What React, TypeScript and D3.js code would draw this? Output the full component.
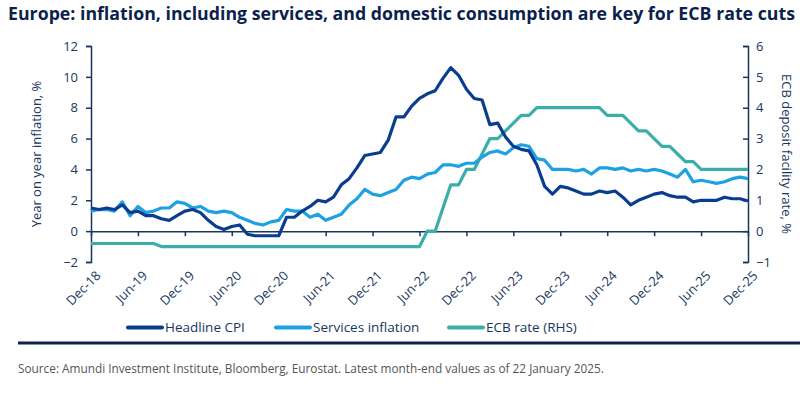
import React, { useEffect, useRef } from "react";
import * as d3 from "d3";

// monthly, Dec-18 .. Dec-25
const headlineCPI = [
  1.5,
  1.4, 1.5, 1.4, 1.7, 1.2, 1.3, 1.0, 1.0, 0.8, 0.7, 1.0, 1.3,
  1.4, 1.2, 0.7, 0.3, 0.1, 0.3, 0.4, -0.2, -0.3, -0.3, -0.3, -0.3,
  0.9, 0.9, 1.3, 1.6, 2.0, 1.9, 2.2, 3.0, 3.4, 4.1, 4.9, 5.0,
  5.1, 5.9, 7.4, 7.4, 8.1, 8.6, 8.9, 9.1, 9.9, 10.6, 10.1, 9.2,
  8.6, 8.5, 6.9, 7.0, 6.1, 5.5, 5.3, 5.2, 4.3, 2.9, 2.4, 2.9,
  2.8, 2.6, 2.4, 2.4, 2.6, 2.5, 2.6, 2.2, 1.7, 2.0, 2.2, 2.4,
  2.5, 2.3, 2.2, 2.2, 1.9, 2.0, 2.0, 2.0, 2.2, 2.1, 2.1, 1.95,
];

const servicesInflation = [
  1.3,
  1.4, 1.4, 1.3, 1.9, 1.0, 1.6, 1.2, 1.3, 1.5, 1.5, 1.9, 1.8,
  1.5, 1.6, 1.3, 1.2, 1.3, 1.2, 0.9, 0.7, 0.5, 0.4, 0.6, 0.7,
  1.4, 1.3, 1.3, 0.9, 1.1, 0.7, 0.9, 1.1, 1.7, 2.1, 2.7, 2.4,
  2.3, 2.5, 2.7, 3.3, 3.5, 3.4, 3.7, 3.8, 4.3, 4.3, 4.2, 4.4,
  4.4, 4.8, 5.1, 5.2, 5.0, 5.4, 5.6, 5.5, 4.7, 4.6, 4.0, 4.0,
  4.0, 3.9, 4.0, 3.7, 4.1, 4.1, 4.0, 4.1, 3.9, 4.0, 3.9, 4.0,
  3.9, 3.7, 3.5, 4.0, 3.2, 3.3, 3.2, 3.1, 3.2, 3.4, 3.5, 3.4,
];

// right-hand scale
const ecbRate = [
  -0.4,
  -0.4, -0.4, -0.4, -0.4, -0.4, -0.4, -0.4, -0.4, -0.5, -0.5, -0.5, -0.5,
  -0.5, -0.5, -0.5, -0.5, -0.5, -0.5, -0.5, -0.5, -0.5, -0.5, -0.5, -0.5,
  -0.5, -0.5, -0.5, -0.5, -0.5, -0.5, -0.5, -0.5, -0.5, -0.5, -0.5, -0.5,
  -0.5, -0.5, -0.5, -0.5, -0.5, -0.5, 0, 0, 0.75, 1.5, 1.5, 2.0,
  2.0, 2.5, 3.0, 3.0, 3.25, 3.5, 3.75, 3.75, 4.0, 4.0, 4.0, 4.0,
  4.0, 4.0, 4.0, 4.0, 4.0, 3.75, 3.75, 3.75, 3.5, 3.25, 3.25, 3.0,
  2.75, 2.75, 2.5, 2.25, 2.25, 2.0, 2.0, 2.0, 2.0, 2.0, 2.0, 2.0,
];

const xTickLabels = [
  "Dec-18", "Jun-19", "Dec-19", "Jun-20", "Dec-20", "Jun-21", "Dec-21", "Jun-22",
  "Dec-22", "Jun-23", "Dec-23", "Jun-24", "Dec-24", "Jun-25", "Dec-25",
];
const leftTicks = [-2, 0, 2, 4, 6, 8, 10, 12];
const rightTicks = [-1, 0, 1, 2, 3, 4, 5, 6];

const navy = "#17375e";
const font = "'Open Sans', 'Noto Sans', sans-serif";

export default function App() {
  const ref = useRef<SVGSVGElement>(null);

  useEffect(() => {
    const svg = d3.select(ref.current);
    svg.selectAll("*").remove();

    const n = headlineCPI.length;
    const left = 91, right = 748, top = 46, bottom = 262;

    // x in months since Dec-18
    const x = d3.scaleLinear().domain([0, n - 1]).range([left, right]);
    const yL = d3.scaleLinear().domain([-2, 12]).range([bottom, top]);
    const yR = d3.scaleLinear().domain([-1, 6]).range([bottom, top]);

    svg
      .append("text")
      .attr("x", 8)
      .attr("y", 20)
      .attr("textLength", 787)
      .attr("lengthAdjust", "spacingAndGlyphs")
      .attr("fill", "#0c1f4d")
      .style("font-family", font)
      .style("font-weight", 700)
      .style("font-size", "17px")
      .text("Europe: inflation, including services, and domestic consumption are key for ECB rate cuts");

    // left axis
    const gl = svg
      .append("g")
      .attr("transform", `translate(${left},0)`)
      .call(d3.axisLeft(yL).tickValues(leftTicks).tickSize(5).tickPadding(8).tickFormat(d3.format("d")));
    gl.selectAll("path, line").attr("stroke", navy).attr("stroke-width", 1.5);
    gl.selectAll("text").attr("fill", navy).style("font-family", font).style("font-size", "13px");

    // right axis
    const gr = svg
      .append("g")
      .attr("transform", `translate(${right},0)`)
      .call(d3.axisRight(yR).tickValues(rightTicks).tickSizeInner(-5).tickSizeOuter(-5).tickPadding(8).tickFormat(d3.format("d")));
    gr.selectAll("path, line").attr("stroke", navy).attr("stroke-width", 1.5);
    gr.selectAll("text").attr("fill", navy).style("font-family", font).style("font-size", "13px");

    // zero line with half-year ticks
    const xTicks = xTickLabels.map((_, i) => i * 6);
    const gx = svg
      .append("g")
      .attr("transform", `translate(0,${yL(0)})`)
      .call(d3.axisBottom(x).tickValues(xTicks).tickSize(5).tickSizeOuter(0).tickFormat(() => ""));
    gx.selectAll("path, line").attr("stroke", navy).attr("stroke-width", 1.5);

    svg
      .append("g")
      .selectAll("text")
      .data(xTickLabels)
      .join("text")
      .attr("transform", (_, i) => `translate(${x(xTicks[i]) + 4},${bottom + 8}) rotate(-45)`)
      .attr("text-anchor", "end")
      .attr("dy", "0.7em")
      .attr("fill", navy)
      .style("font-family", font)
      .style("font-size", "13px")
      .text((d) => d);

    // axis titles
    svg
      .append("text")
      .attr("transform", `translate(41,${(top + bottom) / 2}) rotate(-90)`)
      .attr("text-anchor", "middle")
      .attr("fill", navy)
      .style("font-family", font)
      .style("font-size", "13px")
      .text("Year on year inflation, %");

    svg
      .append("text")
      .attr("transform", `translate(782,${(top + bottom) / 2}) rotate(90)`)
      .attr("text-anchor", "middle")
      .attr("fill", navy)
      .style("font-family", font)
      .style("font-size", "13px")
      .text("ECB deposit facility rate, %");

    const series = [
      { name: "ECB rate (RHS)", values: ecbRate, y: yR, color: "#3aaea9" },
      { name: "Services inflation", values: servicesInflation, y: yL, color: "#1ea1e3" },
      { name: "Headline CPI", values: headlineCPI, y: yL, color: "#0a3d8f" },
    ];

    series.forEach((s) => {
      const line = d3
        .line<number>()
        .x((_, i) => x(i))
        .y((d) => s.y(d));
      svg
        .append("path")
        .datum(s.values)
        .attr("d", line)
        .attr("fill", "none")
        .attr("stroke", s.color)
        .attr("stroke-width", 3.2)
        .attr("stroke-linejoin", "round");
    });

    // legend
    const legendItems = [
      { name: "Headline CPI", color: "#0a3d8f", x: 128 },
      { name: "Services inflation", color: "#1ea1e3", x: 276 },
      { name: "ECB rate (RHS)", color: "#3aaea9", x: 449 },
    ];
    const lg = svg.append("g").attr("transform", "translate(0,327.5)");
    legendItems.forEach((it) => {
      lg.append("line")
        .attr("x1", it.x)
        .attr("x2", it.x + 34)
        .attr("stroke", it.color)
        .attr("stroke-width", 4)
        .attr("stroke-linecap", "round");
      lg.append("text")
        .attr("x", it.x + 37)
        .attr("dy", "0.35em")
        .attr("fill", navy)
        .style("font-family", font)
        .style("font-size", "13.5px")
        .text(it.name);
    });

    svg
      .append("line")
      .attr("x1", 18)
      .attr("x2", 800)
      .attr("y1", 343)
      .attr("y2", 343)
      .attr("stroke", "#0d2350")
      .attr("stroke-width", 3);

    svg
      .append("text")
      .attr("x", 18)
      .attr("y", 373)
      .attr("fill", "#555")
      .style("font-family", font)
      .style("font-size", "11.8px")
      .text("Source: Amundi Investment Institute, Bloomberg, Eurostat. Latest month-end values as of 22 January 2025.");
  }, []);

  return (
    <div style={{ position: "absolute", left: 0, top: 0 }}>
      <svg ref={ref} width={800} height={396} style={{ display: "block", background: "#fff" }}></svg>
    </div>
  );
}
